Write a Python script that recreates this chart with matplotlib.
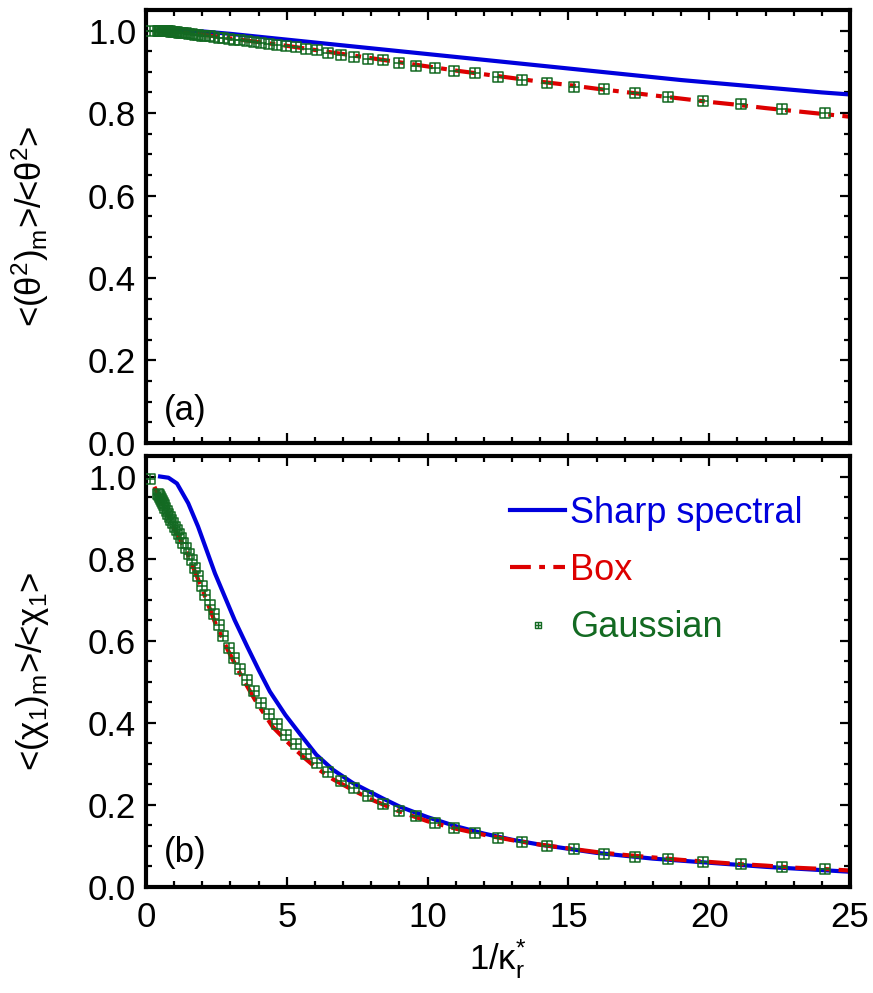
import numpy as np
import matplotlib
matplotlib.use('Agg')
import matplotlib.pyplot as plt
from matplotlib.path import Path
from matplotlib.lines import Line2D
from matplotlib.ticker import MultipleLocator

plt.rcParams['font.family'] = ['Liberation Sans', 'DejaVu Sans']
plt.rcParams['mathtext.fontset'] = 'custom'
plt.rcParams['mathtext.rm'] = 'Liberation Sans'
plt.rcParams['mathtext.it'] = 'Liberation Sans'
plt.rcParams['mathtext.bf'] = 'Liberation Sans:bold'

# Gaussian filter points (shared x for both panels)
gauss_x = [0.15, 0.43, 0.46, 0.49, 0.53, 0.56, 0.60, 0.64, 0.69, 0.74, 0.79, 0.84,
           0.90, 0.96, 1.02, 1.09, 1.17, 1.25, 1.33, 1.42, 1.52, 1.62, 1.74, 1.85,
           1.98, 2.11, 2.26, 2.41, 2.58, 2.75, 2.94, 3.14, 3.35, 3.58, 3.82, 4.08,
           4.36, 4.66, 4.97, 5.31, 5.67, 6.06, 6.47, 6.91, 7.38, 7.88, 8.41, 8.99,
           9.60, 10.25, 10.95, 11.69, 12.49, 13.34, 14.24, 15.21, 16.25, 17.35,
           18.53, 19.79, 21.14, 22.58, 24.11]
gauss_theta = [1.0, 1.0, 1.0, 1.0, 1.0, 1.0, 0.999, 0.999, 0.999, 0.999, 0.998, 0.998,
               0.997, 0.997, 0.996, 0.996, 0.995, 0.994, 0.993, 0.993, 0.992, 0.991,
               0.990, 0.989, 0.988, 0.987, 0.986, 0.984, 0.983, 0.981, 0.980, 0.978,
               0.976, 0.974, 0.972, 0.970, 0.968, 0.965, 0.962, 0.959, 0.956, 0.952,
               0.946, 0.941, 0.937, 0.932, 0.928, 0.921, 0.915, 0.909, 0.903, 0.896,
               0.888, 0.881, 0.874, 0.864, 0.858, 0.849, 0.840, 0.829, 0.821, 0.810,
               0.801]
gauss_chi = [0.995, 0.958, 0.954, 0.950, 0.945, 0.941, 0.935, 0.930, 0.923, 0.916,
             0.909, 0.902, 0.894, 0.886, 0.877, 0.869, 0.859, 0.849, 0.838, 0.827,
             0.812, 0.797, 0.778, 0.757, 0.734, 0.711, 0.686, 0.664, 0.638, 0.611,
             0.581, 0.557, 0.531, 0.504, 0.477, 0.449, 0.422, 0.397, 0.371, 0.348,
             0.324, 0.301, 0.279, 0.258, 0.240, 0.221, 0.202, 0.184, 0.172, 0.157,
             0.143, 0.132, 0.119, 0.109, 0.100, 0.092, 0.081, 0.074, 0.068, 0.062,
             0.055, 0.048, 0.043]

# panel (a)
sharp_x_a = [0.5, 1, 2, 3, 4, 5, 6, 7, 8, 9, 10, 11, 12, 13, 14, 15, 16, 17, 18, 19,
             20, 21, 22, 23, 24, 25]
sharp_theta = [1.0, 1.0, 0.998, 0.992, 0.985, 0.978, 0.971, 0.964, 0.957, 0.950,
               0.943, 0.936, 0.929, 0.922, 0.915, 0.908, 0.901, 0.894, 0.887, 0.880,
               0.874, 0.868, 0.862, 0.856, 0.850, 0.845]
box_x_a = [0.3, 1, 2, 3, 4, 5, 6, 7, 8, 9, 10, 11, 12, 13, 14, 15, 16, 17, 18, 19,
           20, 21, 22, 23, 24, 25]
box_theta = [1.0, 0.997, 0.990, 0.981, 0.972, 0.963, 0.953, 0.943, 0.933, 0.923,
             0.913, 0.903, 0.894, 0.885, 0.876, 0.868, 0.859, 0.851, 0.843, 0.835,
             0.827, 0.820, 0.812, 0.805, 0.798, 0.791]

# panel (b)
sharp_x_b = [0.5, 0.8, 1.1, 1.5, 1.85, 2.15, 2.45, 2.8, 3.15, 3.6, 4.0, 4.4, 4.95,
             5.5, 6.05, 6.65, 7.35, 8.4, 9, 10, 11, 12, 13, 14, 15, 16, 17, 18, 19,
             20, 21, 22, 23, 24, 25]
sharp_chi = [1.0, 0.997, 0.983, 0.935, 0.878, 0.821, 0.764, 0.707, 0.650, 0.585,
             0.529, 0.476, 0.419, 0.370, 0.322, 0.285, 0.253, 0.216, 0.196, 0.170,
             0.148, 0.130, 0.115, 0.103, 0.093, 0.083, 0.076, 0.069, 0.064, 0.059,
             0.054, 0.049, 0.045, 0.041, 0.037]
box_x_b = [0.3, 1.0, 1.5, 2.0, 2.45, 2.9, 3.4, 3.87, 4.5, 5.1, 5.6, 6.05, 6.65, 7.35,
           8, 9, 10, 11, 12, 13, 14, 15, 16, 17, 18, 19, 20, 21, 22, 23, 24, 25]
box_chi = [0.975, 0.875, 0.808, 0.725, 0.645, 0.578, 0.512, 0.456, 0.390, 0.348,
           0.316, 0.290, 0.262, 0.236, 0.213, 0.184, 0.160, 0.142, 0.127, 0.114,
           0.103, 0.094, 0.085, 0.078, 0.072, 0.066, 0.061, 0.056, 0.052, 0.047,
           0.044, 0.040]

blue = '#0000dd'
red = '#dd0000'
green = '#136a22'

# square with a cross inside
boxplus = Path([(-1, -1), (1, -1), (1, 1), (-1, 1), (-1, -1), (0, -1), (0, 1), (-1, 0), (1, 0)],
               [Path.MOVETO, Path.LINETO, Path.LINETO, Path.LINETO, Path.CLOSEPOLY,
                Path.MOVETO, Path.LINETO, Path.MOVETO, Path.LINETO])

dashdot = (0, (5, 2, 1.4, 2))

fig = plt.figure(figsize=(8.73, 9.93), dpi=100)
ax1 = fig.add_axes([0.1672, 0.5539, 0.8065, 0.4361])
ax2 = fig.add_axes([0.1672, 0.1068, 0.8065, 0.4340])

for ax in (ax1, ax2):
    ax.set_xlim(0, 25)
    ax.set_ylim(0, 1.05)
    ax.xaxis.set_major_locator(MultipleLocator(5))
    ax.xaxis.set_minor_locator(MultipleLocator(1))
    ax.yaxis.set_major_locator(MultipleLocator(0.2))
    ax.yaxis.set_minor_locator(MultipleLocator(0.05))
    ax.yaxis.set_major_formatter(matplotlib.ticker.FormatStrFormatter('%.1f'))
    ax.tick_params(which='both', direction='in', top=True, right=True, width=1.6,
                   labelsize=25)
    ax.tick_params(which='major', length=7)
    ax.tick_params(which='minor', length=4.5)
    ax.tick_params(axis='y', pad=7)
    ax.tick_params(axis='x', pad=10)
    for s in ax.spines.values():
        s.set_linewidth(3)

ax1.tick_params(labelbottom=False)

ax1.plot(sharp_x_a, sharp_theta, color=blue, lw=3, zorder=2)
ax1.plot(box_x_a, box_theta, color=red, lw=3, linestyle=dashdot, zorder=2)
ax1.plot(gauss_x, gauss_theta, linestyle='none', marker=boxplus, ms=7.8, mfc='none',
         mec=green, mew=1.1, zorder=3)

ax2.plot(sharp_x_b, sharp_chi, color=blue, lw=3, zorder=2)
ax2.plot(box_x_b, box_chi, color=red, lw=3, linestyle=dashdot, zorder=2)
ax2.plot(gauss_x, gauss_chi, linestyle='none', marker=boxplus, ms=7.8, mfc='none',
         mec=green, mew=1.1, zorder=3)

ax1.text(0.026, 0.076, '(a)', transform=ax1.transAxes, fontsize=25, va='center')
ax2.text(0.026, 0.079, '(b)', transform=ax2.transAxes, fontsize=25, va='center')

ax1.set_ylabel(r'<(θ$^{2}$)$_{m}$>/<θ$^{2}$>', fontsize=25)
ax2.set_ylabel(r'<(χ$_{1}$)$_{m}$>/<χ$_{1}$>', fontsize=25)
ax1.yaxis.set_label_coords(-0.135, 0.5)
ax2.yaxis.set_label_coords(-0.135, 0.5)
ax2.set_xlabel(r'1/κ$_{r}^{*}$', fontsize=25, labelpad=2)

handles = [Line2D([], [], color=blue, lw=3),
           Line2D([], [], color=red, lw=3, linestyle=dashdot),
           Line2D([], [], linestyle='none', marker=boxplus, ms=5, mfc='none', mec=green, mew=1)]
ax2.legend(handles, ['Sharp spectral', 'Box', 'Gaussian'], loc='upper left',
           bbox_to_anchor=(0.492, 0.95), frameon=False, fontsize=26, borderpad=0,
           handlelength=1.5, handletextpad=0.15, labelspacing=0.62,
           labelcolor=[blue, red, green])

fig.savefig('out.png', dpi=100)
